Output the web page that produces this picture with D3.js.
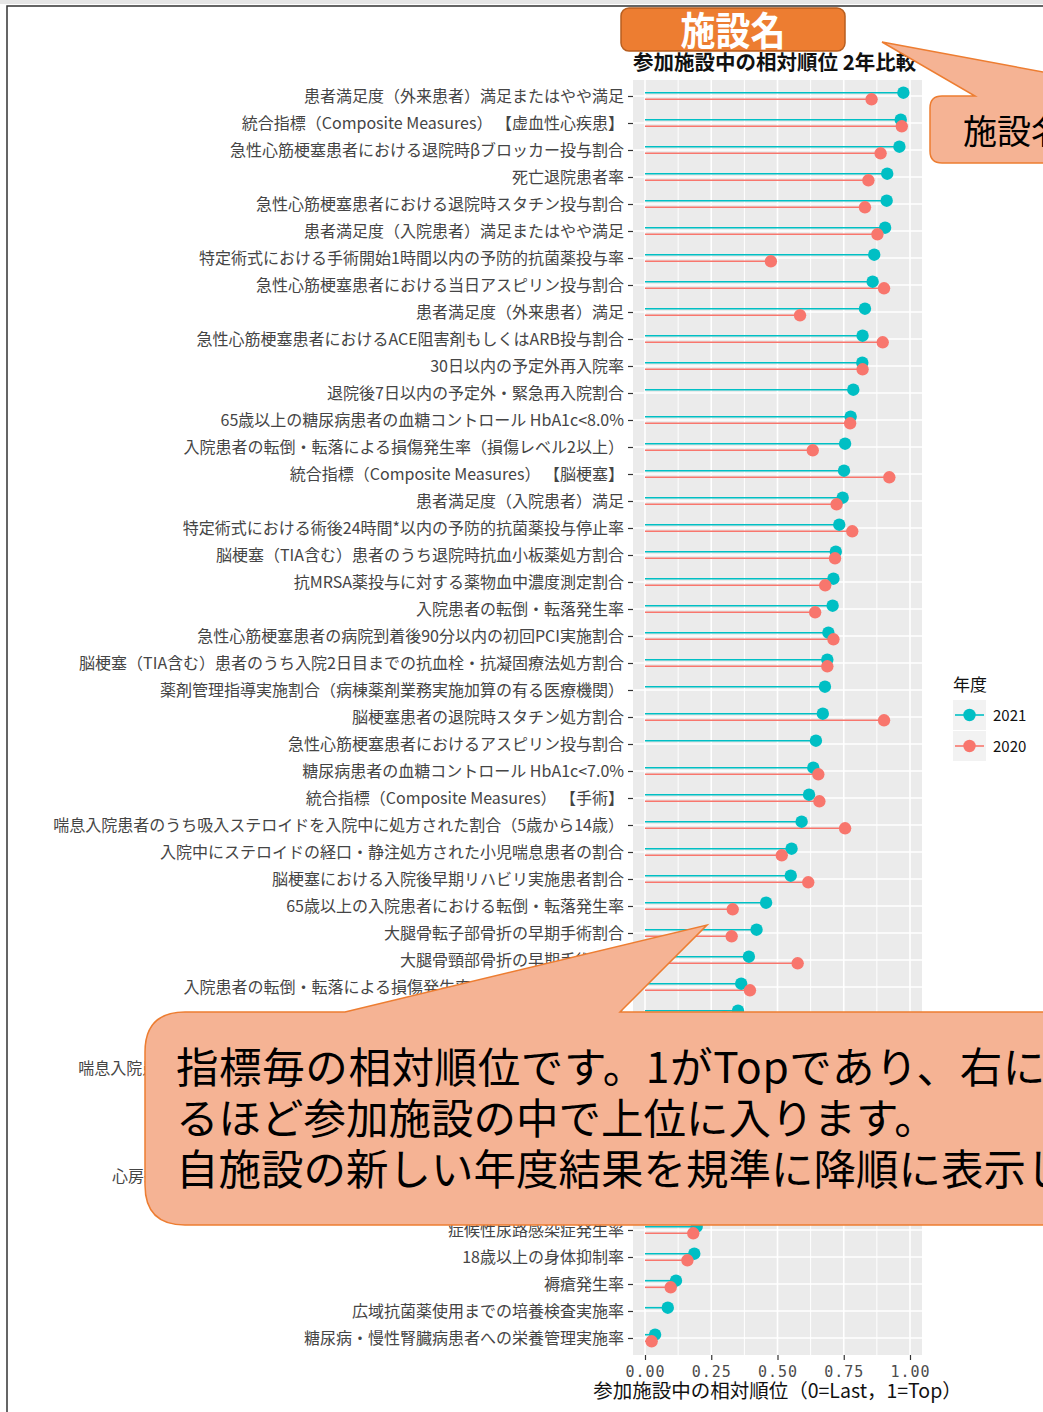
<!DOCTYPE html>
<html><head><meta charset="utf-8">
<script src="https://cdn.jsdelivr.net/npm/d3@7"></script>
<style>
html,body{margin:0;padding:0;background:#fff;}
svg{display:block;font-family:"Noto Sans CJK JP","Noto Sans",sans-serif;}
</style></head>
<body>
<svg id="c" width="1043" height="1412"></svg>
<script>
// ---------------- data ----------------
const categories = [
  "患者満足度（外来患者）満足またはやや満足",
  "統合指標（Composite Measures） 【虚血性心疾患】",
  "急性心筋梗塞患者における退院時βブロッカー投与割合",
  "死亡退院患者率",
  "急性心筋梗塞患者における退院時スタチン投与割合",
  "患者満足度（入院患者）満足またはやや満足",
  "特定術式における手術開始1時間以内の予防的抗菌薬投与率",
  "急性心筋梗塞患者における当日アスピリン投与割合",
  "患者満足度（外来患者）満足",
  "急性心筋梗塞患者におけるACE阻害剤もしくはARB投与割合",
  "30日以内の予定外再入院率",
  "退院後7日以内の予定外・緊急再入院割合",
  "65歳以上の糖尿病患者の血糖コントロール HbA1c<8.0%",
  "入院患者の転倒・転落による損傷発生率（損傷レベル2以上）",
  "統合指標（Composite Measures） 【脳梗塞】",
  "患者満足度（入院患者）満足",
  "特定術式における術後24時間*以内の予防的抗菌薬投与停止率",
  "脳梗塞（TIA含む）患者のうち退院時抗血小板薬処方割合",
  "抗MRSA薬投与に対する薬物血中濃度測定割合",
  "入院患者の転倒・転落発生率",
  "急性心筋梗塞患者の病院到着後90分以内の初回PCI実施割合",
  "脳梗塞（TIA含む）患者のうち入院2日目までの抗血栓・抗凝固療法処方割合",
  "薬剤管理指導実施割合（病棟薬剤業務実施加算の有る医療機関）",
  "脳梗塞患者の退院時スタチン処方割合",
  "急性心筋梗塞患者におけるアスピリン投与割合",
  "糖尿病患者の血糖コントロール HbA1c<7.0%",
  "統合指標（Composite Measures） 【手術】",
  "喘息入院患者のうち吸入ステロイドを入院中に処方された割合（5歳から14歳）",
  "入院中にステロイドの経口・静注処方された小児喘息患者の割合",
  "脳梗塞における入院後早期リハビリ実施患者割合",
  "65歳以上の入院患者における転倒・転落発生率",
  "大腿骨転子部骨折の早期手術割合",
  "大腿骨頸部骨折の早期手術割合",
  "入院患者の転倒・転落による損傷発生率（損傷レベル4以上）",
  "血液培養2セット実施率",
  "脳卒中患者に対する早期リハビリテーション開始率",
  "喘息入院患者のうち吸入ステロイドを入院中に処方された割合（15歳以上）",
  "手術ありの患者の肺血栓塞栓症の予防対策実施率",
  "人工膝関節全置換術患者の早期リハビリ開始率",
  "救急車・ホットラインの応需率",
  "心房細動を伴う脳梗塞患者のうち、退院時に抗凝固薬を処方された割合",
  "中心静脈カテーテル関連血流感染発生率",
  "症候性尿路感染症発生率",
  "18歳以上の身体抑制率",
  "褥瘡発生率",
  "広域抗菌薬使用までの培養検査実施率",
  "糖尿病・慢性腎臓病患者への栄養管理実施率"
];
const values2021 = [0.975,0.965,0.960,0.914,0.912,0.906,0.865,0.859,0.830,0.821,0.820,
  0.786,0.776,0.755,0.751,0.746,0.733,0.720,0.711,0.708,0.692,0.688,
  0.679,0.671,0.645,0.635,0.619,0.591,0.553,0.550,0.457,0.421,0.392,0.363,
  0.351,0.335,0.318,0.300,0.270,0.252,0.228,0.210,
  0.195,0.186,0.117,0.086,0.038];
const values2020 = [0.855,0.969,0.889,0.843,0.830,0.877,0.475,0.902,0.585,0.897,0.821,
  null,0.774,0.633,0.922,0.723,0.782,0.717,0.680,0.642,0.711,0.688,
  null,0.902,null,0.654,0.658,0.755,0.516,0.616,0.331,0.327,0.576,0.396,
  0.300,0.360,0.420,0.260,null,0.310,0.190,0.240,
  0.182,0.160,0.097,null,0.025];
const seriesNames = ["2021","2020"];
const seriesColors = ["#00BFC4","#F8766D"];
const xTicks = [0,0.25,0.5,0.75,1];
const xMinor = [0.125,0.375,0.625,0.875];
const xTickLabels = ["0.00","0.25","0.50","0.75","1.00"];
const chartTitle = "参加施設中の相対順位 2年比較";
const xTitle = "参加施設中の相対順位（0=Last，1=Top）";
const legendTitle = "年度";
const facilityLabel = "施設名";
const noteLines = ["指標毎の相対順位です。1がTopであり、右に行く",
                   "るほど参加施設の中で上位に入ります。",
                   "自施設の新しい年度結果を規準に降順に表示します。"];

// ---------------- drawing ----------------
const svg = d3.select("#c");
svg.append("rect").attr("width",1043).attr("height",1412).attr("fill","#fff");
// slide frame
svg.append("rect").attr("x",0).attr("y",0).attr("width",1043).attr("height",4).attr("fill","#e6e6e6");
svg.append("rect").attr("x",7).attr("y",6).attr("width",1200).attr("height",1500)
  .attr("fill","none").attr("stroke","#333").attr("stroke-width",1.5);

const panel = {left:633, right:922, top:80, bottom:1355};
const x = d3.scaleLinear().domain([0,1]).range([645,910]);
const y = d3.scalePoint().domain(categories).range([96,1338]);

svg.append("rect").attr("x",panel.left).attr("y",panel.top)
  .attr("width",panel.right-panel.left).attr("height",panel.bottom-panel.top).attr("fill","#EBEBEB");
const g = svg.append("g");
g.selectAll(".minor").data(xMinor).join("line")
  .attr("x1",d=>x(d)).attr("x2",d=>x(d)).attr("y1",panel.top).attr("y2",panel.bottom)
  .attr("stroke","#fff").attr("stroke-width",1);
g.selectAll(".major").data(xTicks).join("line")
  .attr("x1",d=>x(d)).attr("x2",d=>x(d)).attr("y1",panel.top).attr("y2",panel.bottom)
  .attr("stroke","#fff").attr("stroke-width",1.6);
g.selectAll(".hg").data(categories).join("line")
  .attr("x1",panel.left).attr("x2",panel.right).attr("y1",d=>y(d)).attr("y2",d=>y(d))
  .attr("stroke","#fff").attr("stroke-width",1.6);

const dodge = [-3.3, 3.3];
[values2021, values2020].forEach((vals, si) => {
  const data = categories.map((c,i)=>({c, v: vals[i]})).filter(d=>d.v!=null);
  svg.append("g").selectAll("line").data(data).join("line")
    .attr("x1",x(0)).attr("x2",d=>x(d.v))
    .attr("y1",d=>y(d.c)+dodge[si]).attr("y2",d=>y(d.c)+dodge[si])
    .attr("stroke",seriesColors[si]).attr("stroke-width",1.6);
});
[values2021, values2020].forEach((vals, si) => {
  const data = categories.map((c,i)=>({c, v: vals[i]})).filter(d=>d.v!=null);
  svg.append("g").selectAll("circle").data(data).join("circle")
    .attr("cx",d=>x(d.v)).attr("cy",d=>y(d.c)+dodge[si]).attr("r",6.2)
    .attr("fill",seriesColors[si]);
});

// y axis
const ya = svg.append("g").attr("transform",`translate(${panel.left},0)`)
  .call(d3.axisLeft(y).tickSize(5).tickPadding(4));
ya.select(".domain").remove();
ya.selectAll(".tick line").attr("stroke","#333").attr("stroke-width",1.2);
ya.selectAll(".tick text").attr("fill","#454545").style("font-size","16px")
  .style("font-family",'"Noto Sans CJK JP",sans-serif');

// x axis
const xa = svg.append("g").attr("transform",`translate(0,${panel.bottom})`)
  .call(d3.axisBottom(x).tickValues(xTicks).tickFormat((d,i)=>xTickLabels[i]).tickSize(5).tickPadding(6));
xa.select(".domain").remove();
xa.selectAll(".tick line").attr("stroke","#333").attr("stroke-width",1.2);
xa.selectAll(".tick text").attr("fill","#4D4D4D").style("font-size","15px")
  .style("letter-spacing","1px").style("font-family",'"DejaVu Sans Mono",monospace');

svg.append("text").attr("x",(panel.left+panel.right)/2).attr("y",1398).attr("text-anchor","middle")
  .style("font-size","19.5px").attr("fill","#111").text(xTitle);
svg.append("text").attr("x",panel.left).attr("y",70)
  .style("font-size","20.5px").style("font-weight","700").attr("fill","#111").text(chartTitle);

// legend
const lg = svg.append("g");
lg.append("text").attr("x",953).attr("y",691).style("font-size","17px").attr("fill","#111").text(legendTitle);
seriesNames.forEach((s,i)=>{
  const cy = 715 + i*31;
  lg.append("rect").attr("x",953).attr("y",cy-15).attr("width",33).attr("height",30).attr("fill","#F2F2F2");
  lg.append("line").attr("x1",955).attr("x2",984).attr("y1",cy).attr("y2",cy)
    .attr("stroke",seriesColors[i]).attr("stroke-width",1.6);
  lg.append("circle").attr("cx",969.5).attr("cy",cy).attr("r",6.2).attr("fill",seriesColors[i]);
  lg.append("text").attr("x",993).attr("y",cy+6).style("font-size","15px").attr("fill","#111").text(s);
});

// ---------------- annotations ----------------
// facility name badge
svg.append("rect").attr("x",621).attr("y",8).attr("width",224).attr("height",43).attr("rx",8)
  .attr("fill","#ED7D31").attr("stroke","#B85E1F").attr("stroke-width",1.5);
svg.append("text").attr("transform","translate(733,45) scale(1,1.12)").attr("text-anchor","middle")
  .style("font-size","35px").style("font-weight","700").attr("fill","#fff").text(facilityLabel);

const calloutFill = "#F5B394", calloutStroke = "#ED7D31";
// right callout
svg.append("path")
  .attr("d","M942,96 L975,96 L882,42 L1172,96 L1200,96 L1200,163 L942,163 Q930,163 930,151 L930,108 Q930,96 942,96 Z")
  .attr("fill",calloutFill).attr("stroke",calloutStroke).attr("stroke-width",1.5);
svg.append("text").attr("x",963).attr("y",144).style("font-size","34px").attr("fill","#000").text(facilityLabel);

// bottom callout
svg.append("path")
  .attr("d","M185,1012 L345,1012 L707,925 L620,1012 L1200,1012 L1200,1225 L185,1225 Q145,1225 145,1185 L145,1052 Q145,1012 185,1012 Z")
  .attr("fill",calloutFill).attr("stroke",calloutStroke).attr("stroke-width",1.5);
noteLines.forEach((t,i)=>{
  svg.append("text").attr("x",176).attr("y",1083 + i*51).style("font-size","42.5px")
    .style("letter-spacing", i===0 ? "0.6px" : "0px")
    .attr("fill","#000").text(t);
});
</script>
</body></html>
